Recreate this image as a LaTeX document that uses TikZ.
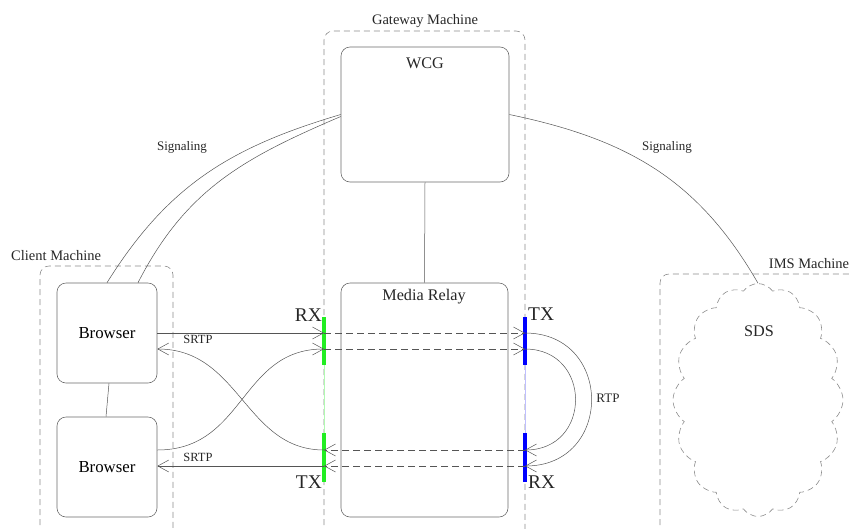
\documentclass[tikz,border=0pt]{standalone}
\usepackage{fontspec}
\setmainfont{Liberation Serif}
\usetikzlibrary{arrows.meta,shapes.symbols}
\definecolor{linec}{HTML}{555555}
\definecolor{boxc}{HTML}{6A6A6A}
\definecolor{dashc}{HTML}{8C8C8C}
\definecolor{gbar}{HTML}{22EE22}
\begin{document}
\begin{tikzpicture}[x=1pt,y=-1pt,
  box/.style={draw=boxc, rounded corners=9pt, line width=0.6pt, inner sep=0pt},
  machine/.style={draw=dashc, dash pattern=on 6pt off 4pt, line width=0.6pt, rounded corners=9pt},
  arr/.style={draw=linec, line width=0.5pt, -{Straight Barb[length=11pt,width=12pt]}},
  darr/.style={arr, dash pattern=on 7pt off 4pt},
  conn/.style={draw=linec, line width=0.5pt},
  lbl/.style={inner sep=0pt, text=black!85},
  bar/.style={line width=3.5pt},
]
\useasboundingbox (0,0) rectangle (851,528);
\clip (0,0) rectangle (851,528);

% machines
\draw[machine] (324,545) -- (324,31) -- (525,31) -- (525,545);
\node[lbl, font=\fontsize{14.5}{17}\selectfont] (gwl) at (425,21) {Gateway Machine};
\draw[machine] (40,545) -- (40,266) -- (173,266) -- (173,545);
\node[lbl, anchor=west, font=\fontsize{14.5}{17}\selectfont] (cml) at (11,256) {Client Machine};
\draw[machine] (660,545) -- (660,274) -- (870,274);
\node[lbl, font=\fontsize{14.5}{17}\selectfont] (iml) at (809,264) {IMS Machine};

% boxes
\node[box, minimum width=168pt, minimum height=135pt] (wcg) at (425,114.5) {};
\node[lbl, font=\fontsize{16.2}{19}\selectfont] (wcgt) at (425,63) {WCG};
\node[box, minimum width=167pt, minimum height=234pt] (mr) at (424.5,400) {};
\node[lbl, font=\fontsize{16.2}{19}\selectfont] (mrt) at (424,297) {Media Relay};
\node[box, minimum width=100pt, minimum height=100pt, font=\fontsize{16.8}{19}\selectfont] (b1) at (107,333) {Browser};
\node[box, minimum width=100pt, minimum height=100pt, font=\fontsize{16.8}{19}\selectfont] (b2) at (107,467) {Browser};

\draw[conn] (wcg.south) -- (mr.north);
\draw[conn] ([xshift=2pt]b1.south) -- ([xshift=-1pt]b2.north);

% cloud
\node[cloud, draw=dashc, dash pattern=on 6pt off 4pt, line width=0.6pt, cloud puffs=16, cloud puff arc=110, aspect=0.73, minimum width=170pt, minimum height=233pt, inner sep=0pt] (sds) at (758,400) {};
\node[lbl, font=\fontsize{16.2}{19}\selectfont] (sdst) at (759,331) {SDS};

% port bars
\draw[gbar!35, line width=1pt] (324,365) -- (324,433);
\draw[blue!25, line width=1pt] (525,365) -- (525,433);
\draw[bar, draw=gbar] (324,317) -- (324,365);
\draw[bar, draw=gbar] (324,433) -- (324,482);
\draw[bar, draw=blue] (525,317) -- (525,365);
\draw[bar, draw=blue] (525,433) -- (525,482);
\node[lbl, anchor=east, font=\fontsize{19.4}{22}\selectfont] (rxl) at (322,315) {RX};
\node[lbl, anchor=east, font=\fontsize{19.4}{22}\selectfont] (txl) at (322,482) {TX};
\node[lbl, anchor=west, font=\fontsize{19.4}{22}\selectfont] (txr) at (528,314) {TX};
\node[lbl, anchor=west, font=\fontsize{19.4}{22}\selectfont] (rxr) at (528,482) {RX};

\coordinate (grx1) at (324,333);
\coordinate (grx2) at (324,349);
\coordinate (gtx1) at (324,450);
\coordinate (gtx2) at (324,466);
\coordinate (btx1) at (525,333);
\coordinate (btx2) at (525,349);
\coordinate (brx1) at (525,450);
\coordinate (brx2) at (525,466);

% SRTP
\draw[arr] (b1.east |- grx1) -- (grx1);
\draw[arr] (b2.east |- gtx1) .. controls (245,450) and (240,349) .. (grx2);
\draw[arr] (gtx1) .. controls (245,450) and (240,349) .. (b1.east |- grx2);
\draw[arr] (gtx2) -- (b2.east |- gtx2);
\node[lbl, font=\fontsize{12.5}{14}\selectfont] (srtp1) at (198,339) {SRTP};
\node[lbl, font=\fontsize{12.5}{14}\selectfont] (srtp2) at (198,457) {SRTP};

% relay internal
\draw[darr] (grx1) -- (btx1);
\draw[darr] (grx2) -- (btx2);
\draw[darr] (brx1) -- (gtx1);
\draw[darr] (brx2) -- (gtx2);

% RTP
\draw[arr] (btx1) .. controls (613.7,333) and (613.7,466) .. (brx2);
\draw[arr] (btx2) .. controls (592.3,349) and (592.3,450) .. (brx1);
\node[lbl, font=\fontsize{13}{15}\selectfont] (rtp) at (608,398) {RTP};

% signaling
\draw[conn] (b1.north) .. controls (168,185) and (231,147) .. (wcg.west);
\draw[conn] ([xshift=31pt]b1.north) .. controls (186,189) and (244,158) .. ([yshift=-2pt]wcg.west);
\draw[conn] (wcg.east) .. controls (627,139) and (698,179) .. (sds.north);
\node[lbl, font=\fontsize{13}{15}\selectfont] (sig1) at (182,147) {Signaling};
\node[lbl, font=\fontsize{13}{15}\selectfont] (sig2) at (667,147) {Signaling};
\end{tikzpicture}
\end{document}
